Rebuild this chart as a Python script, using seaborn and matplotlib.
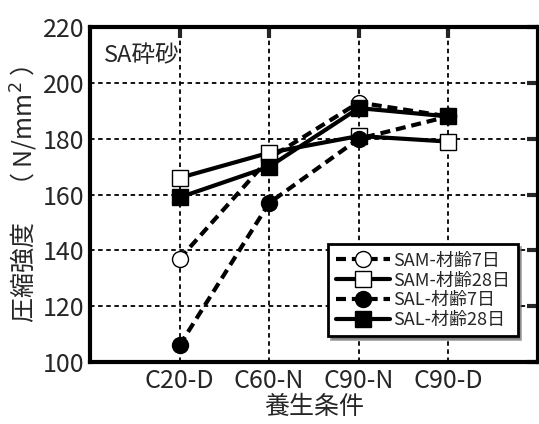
import matplotlib
matplotlib.use("Agg")
import matplotlib.pyplot as plt
import seaborn as sns
import pandas as pd

categories = ["C20-D", "C60-N", "C90-N", "C90-D"]
sam7 = [137, 173, 193, 188]
sam28 = [166, 175, 181, 179]
sal7 = [106, 157, 180, 188]
sal28 = [159, 170, 191, 188]
series_names = ["SAM-材齢7日", "SAM-材齢28日", "SAL-材齢7日", "SAL-材齢28日"]
yticks = [100, 120, 140, 160, 180, 200, 220]

sns.set_theme(style="white")
FAM = ["Noto Sans CJK JP", "DejaVu Sans"]
plt.rcParams["font.family"] = FAM
plt.rcParams["axes.unicode_minus"] = False

fig = plt.figure(figsize=(5.39, 4.24), dpi=100)
ax = fig.add_axes([0.167, 0.146, 0.831, 0.790])

values = [sam7, sam28, sal7, sal28]
dash = (0, (2.4, 1.4))
styles = [
    dict(ls=dash, marker="o", mfc="white"),
    dict(ls="-", marker="s", mfc="white"),
    dict(ls=dash, marker="o", mfc="black"),
    dict(ls="-", marker="s", mfc="black"),
]
for name, vals, st in zip(series_names, values, styles):
    df = pd.DataFrame({"cat": categories, "val": vals})
    sns.lineplot(data=df, x="cat", y="val", ax=ax, sort=False, color="black",
                 linewidth=3, linestyle=st["ls"], marker=st["marker"],
                 markersize=11.5, markerfacecolor=st["mfc"],
                 markeredgecolor="black", markeredgewidth=1.0, label=name)

ax.set_xlim(-1, 4)
ax.set_ylim(100, 220)
ax.set_yticks(yticks)
ax.set_xticks(range(len(categories)))
ax.set_xticklabels(categories)
ax.grid(True, color="black", linestyle=(0, (2.5, 2)), linewidth=1.3)
for s in ax.spines.values():
    s.set_linewidth(3)
    s.set_color("black")
ax.tick_params(direction="in", length=8, width=3, top=True, right=True,
               labelsize=18, pad=4)
for lab in ax.get_yticklabels() + ax.get_xticklabels():
    lab.set_family(FAM)

ax.set_xlabel("養生条件", fontsize=18, labelpad=0, family=FAM)
ax.set_ylabel("圧縮強度　（ N/mm$^2$ ）", fontsize=18, labelpad=2, family=FAM)
ax.text(0.03, 0.95, "SA砕砂", transform=ax.transAxes, fontsize=17,
        va="top", ha="left", family=FAM)

leg = ax.legend(loc="lower right", bbox_to_anchor=(0.975, 0.05), frameon=True,
                fancybox=False, shadow=True, fontsize=13, handlelength=3.0,
                handletextpad=0.2, borderpad=0.4, labelspacing=0.1)
leg.get_frame().set_edgecolor("black")
leg.get_frame().set_linewidth(2)
for t in leg.get_texts():
    t.set_family(FAM)

fig.savefig("out.png", dpi=100)
